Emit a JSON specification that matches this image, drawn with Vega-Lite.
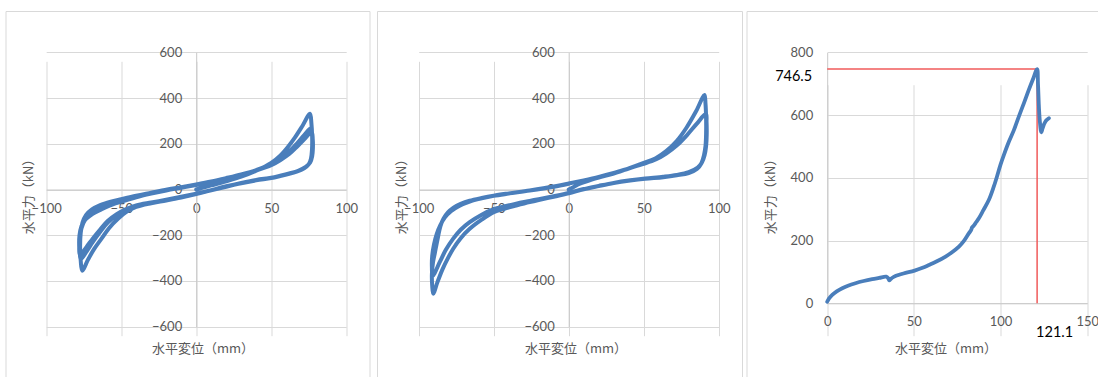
{
  "$schema": "https://vega.github.io/schema/vega-lite/v6.json",
  "padding": {"left": 4.5, "top": 10, "right": 0, "bottom": 0},
  "background": "white",
  "config": {
    "view": {"stroke": "#d9d9d9", "strokeWidth": 1},
    "axis": {"grid": true, "gridColor": "#d9d9d9", "gridWidth": 1, "domainColor": "#c8c8c8", "ticks": false,
      "labelFont": "Lato", "labelFontSize": 13, "labelColor": "#595959", "labelFlush": false, "labelOverlap": false, "labelBound": false,
      "titleFont": "Noto Sans CJK JP", "titleFontSize": 13, "titleColor": "#595959", "titleFontWeight": "normal",
      "titleAlign": "center", "titleBaseline": "middle"},
    "line": {"color": "#4a7ebb", "strokeWidth": 4, "strokeCap": "round", "strokeJoin": "round", "interpolate": "catmull-rom"}
  },
  "datasets": {
    "p1": [
      {"x":0,"y":0},{"x":5,"y":9},{"x":10,"y":18},{"x":20,"y":36},{"x":30,"y":56},{"x":40,"y":82},{"x":50,"y":116},{"x":56,"y":148},{"x":61,"y":185},{"x":66,"y":229},{"x":71,"y":280},{"x":75.8,"y":331},
      {"x":76.8,"y":290},{"x":77.3,"y":230},{"x":77.2,"y":175},{"x":76.5,"y":135},{"x":75,"y":110},{"x":72,"y":93},{"x":67,"y":78},{"x":61,"y":67},{"x":55,"y":58},{"x":50,"y":51},{"x":40,"y":42},{"x":30,"y":29},{"x":20,"y":14},{"x":10,"y":-3},{"x":0,"y":-20},{"x":-10,"y":-35},{"x":-20,"y":-48},{"x":-30,"y":-60},{"x":-40,"y":-76},{"x":-46,"y":-95},{"x":-52,"y":-127},{"x":-58,"y":-168},{"x":-63,"y":-214},{"x":-68,"y":-260},{"x":-72,"y":-305},{"x":-76,"y":-355},
      {"x":-77,"y":-310},{"x":-77.4,"y":-250},{"x":-77,"y":-190},{"x":-75.8,"y":-145},{"x":-73.5,"y":-112},{"x":-69.5,"y":-87},{"x":-64,"y":-68},{"x":-57,"y":-53},{"x":-50,"y":-42},{"x":-40,"y":-27},{"x":-30,"y":-14},{"x":-20,"y":-1},{"x":-10,"y":10},{"x":0,"y":22},{"x":10,"y":35},{"x":20,"y":50},{"x":30,"y":66},{"x":40,"y":85},{"x":50,"y":110},{"x":56,"y":135},{"x":62,"y":166},{"x":67,"y":200},{"x":72,"y":238},{"x":76.5,"y":268},
      {"x":77.3,"y":235},{"x":77.6,"y":190},{"x":77.2,"y":148},{"x":75.8,"y":118},{"x":73,"y":98},{"x":68,"y":81},{"x":62,"y":69},{"x":56,"y":59},{"x":50,"y":50},{"x":40,"y":40},{"x":30,"y":27},{"x":20,"y":12},{"x":10,"y":-4},{"x":0,"y":-19},{"x":-10,"y":-33},{"x":-20,"y":-46},{"x":-30,"y":-58},{"x":-40,"y":-71},{"x":-47,"y":-89},{"x":-53,"y":-112},{"x":-59,"y":-145},{"x":-64,"y":-185},{"x":-69,"y":-230},{"x":-73,"y":-270},{"x":-77,"y":-305},
      {"x":-77.6,"y":-265},{"x":-77.6,"y":-215},{"x":-76.5,"y":-170},{"x":-74,"y":-133},{"x":-69,"y":-106},{"x":-63,"y":-86},{"x":-56,"y":-66},{"x":-48,"y":-50},{"x":-40,"y":-34},{"x":-30,"y":-18},{"x":-20,"y":-4},{"x":-10,"y":8},{"x":0,"y":20},{"x":10,"y":33},{"x":20,"y":47},{"x":30,"y":64},{"x":40,"y":83},{"x":50,"y":106},{"x":56,"y":128},{"x":62,"y":155},{"x":67,"y":186},{"x":72,"y":220},{"x":77,"y":250},
      {"x":77.7,"y":220},{"x":77.8,"y":180},{"x":77.3,"y":145},{"x":76,"y":118},{"x":73,"y":99},{"x":68,"y":82},{"x":62,"y":70},{"x":56,"y":60},{"x":50,"y":51},{"x":40,"y":41},{"x":30,"y":28},{"x":20,"y":13},{"x":10,"y":-3},{"x":0,"y":-18},{"x":-10,"y":-32},{"x":-20,"y":-45},{"x":-30,"y":-57},{"x":-40,"y":-70},{"x":-47,"y":-87},{"x":-53,"y":-108},{"x":-59,"y":-138},{"x":-64,"y":-175},{"x":-69,"y":-215},{"x":-73,"y":-250},{"x":-77.5,"y":-285},
      {"x":-78,"y":-250},{"x":-77.8,"y":-200},{"x":-76.5,"y":-160},{"x":-74,"y":-128},{"x":-69,"y":-102},{"x":-63,"y":-83},{"x":-56,"y":-64},{"x":-48,"y":-48},{"x":-40,"y":-33},{"x":-30,"y":-17},{"x":-20,"y":-3},{"x":-10,"y":9},{"x":0,"y":21}
    ],
    "p2": [
      {"x":0,"y":0},{"x":3,"y":10},{"x":7,"y":24},{"x":12,"y":36},{"x":20,"y":52},{"x":30,"y":70},{"x":40,"y":92},{"x":50,"y":116},{"x":58,"y":137},{"x":65,"y":168},{"x":72,"y":212},{"x":78.5,"y":270},{"x":85,"y":343},{"x":90.5,"y":413},
      {"x":91.2,"y":375},{"x":91.6,"y":310},{"x":91.6,"y":245},{"x":91.2,"y":190},{"x":90.2,"y":150},{"x":88.5,"y":115},{"x":85.5,"y":90},{"x":80,"y":72},{"x":72,"y":62},{"x":63,"y":54},{"x":51,"y":47},{"x":41,"y":39},{"x":30,"y":28},{"x":20,"y":15},{"x":10,"y":1},{"x":0,"y":-17},{"x":-10,"y":-32},{"x":-20,"y":-46},{"x":-26,"y":-55},{"x":-35,"y":-70},{"x":-43,"y":-84},{"x":-50,"y":-99},{"x":-58,"y":-132},{"x":-66,"y":-172},{"x":-72,"y":-213},{"x":-77,"y":-259},{"x":-80.5,"y":-300},{"x":-84,"y":-347},{"x":-87.5,"y":-405},{"x":-90.3,"y":-456},
      {"x":-91,"y":-420},{"x":-91.2,"y":-370},{"x":-90.5,"y":-320},{"x":-89.3,"y":-280},{"x":-87.2,"y":-210},{"x":-85.5,"y":-160},{"x":-83.5,"y":-128},{"x":-80.5,"y":-100},{"x":-77,"y":-80},{"x":-72,"y":-63},{"x":-66,"y":-49},{"x":-58,"y":-37},{"x":-50,"y":-27},{"x":-40,"y":-17},{"x":-26,"y":-4},{"x":-10,"y":13},{"x":0,"y":26},{"x":10,"y":40},{"x":20,"y":55},{"x":30,"y":72},{"x":40,"y":92},{"x":50,"y":112},{"x":58,"y":131},{"x":65,"y":157},{"x":72,"y":192},{"x":78.6,"y":236},{"x":85.3,"y":287},{"x":91.5,"y":331},
      {"x":91.9,"y":295},{"x":92,"y":240},{"x":91.6,"y":190},{"x":90.6,"y":150},{"x":88.8,"y":118},{"x":86,"y":96},{"x":80,"y":76},{"x":72,"y":64},{"x":63,"y":56},{"x":51,"y":48},{"x":41,"y":40},{"x":30,"y":29},{"x":20,"y":16},{"x":10,"y":2},{"x":0,"y":-15},{"x":-10,"y":-29},{"x":-20,"y":-42},{"x":-26,"y":-50},{"x":-35,"y":-62},{"x":-43,"y":-74},{"x":-50,"y":-86},{"x":-58,"y":-110},{"x":-66,"y":-143},{"x":-72,"y":-176},{"x":-77,"y":-215},{"x":-82,"y":-265},{"x":-86,"y":-318},{"x":-90.7,"y":-378},
      {"x":-91.2,"y":-340},{"x":-91,"y":-290},{"x":-89.8,"y":-240},{"x":-88,"y":-195},{"x":-85.5,"y":-155},{"x":-82.5,"y":-122},{"x":-78.5,"y":-95},{"x":-73,"y":-72},{"x":-66,"y":-53},{"x":-58,"y":-39},{"x":-50,"y":-28},{"x":-40,"y":-18},{"x":-26,"y":-5},{"x":-10,"y":12},{"x":0,"y":25}
    ],
    "p3": [
      {"x":0,"y":5},{"x":1,"y":15},{"x":2.9,"y":27},{"x":5.5,"y":38},{"x":8.7,"y":48},{"x":12,"y":56},{"x":16.3,"y":64},{"x":21,"y":71},{"x":26,"y":77},{"x":30,"y":81},{"x":34,"y":85},{"x":35.2,"y":80},{"x":35.8,"y":73},{"x":36.6,"y":77},{"x":38,"y":83},{"x":39.4,"y":87},{"x":44,"y":95},{"x":50.4,"y":104},{"x":55,"y":113},{"x":58.7,"y":122},{"x":63,"y":133},{"x":68.3,"y":149},{"x":72,"y":163},{"x":76,"y":181},{"x":79,"y":200},{"x":81.7,"y":223},{"x":83,"y":233},{"x":83.6,"y":242},{"x":84.5,"y":247},{"x":86,"y":259},{"x":87.5,"y":271},{"x":90,"y":296},{"x":93.3,"y":330},{"x":96,"y":370},{"x":98,"y":405},{"x":100,"y":442},{"x":102,"y":474},{"x":104.8,"y":515},{"x":107.7,"y":552},{"x":110.6,"y":596},{"x":113.5,"y":638},{"x":116.3,"y":680},{"x":118.7,"y":714},{"x":121.1,"y":746.5},
      {"x":121.6,"y":700},{"x":122.2,"y":620},{"x":122.7,"y":579},{"x":123.2,"y":552},{"x":123.5,"y":545},{"x":124.3,"y":558},{"x":125.2,"y":572},{"x":126.2,"y":582},{"x":127.9,"y":590}
    ],
    "refs": [
      {"x1":0,"x2":121.1,"y1":746.5,"y2":746.5},
      {"x1":121.1,"x2":121.1,"y1":0,"y2":746.5}
    ],
    "notes": [
      {"x":0,"y":746.5,"label":"746.5"}
    ],
    "notes2": [
      {"x":121.1,"y":0,"label":"121.1"}
    ]
  },
  "spacing": 3,
  "hconcat": [
    {
      "spacing": 5.5,
      "hconcat": [
        {
          "width": 364, "height": 366,
          "data": {"name": "p1"},
          "mark": {"type": "line"},
          "encoding": {
            "x": {"field": "x", "type": "quantitative",
              "scale": {"domain": [-100, 100], "range": [40.7, 340.7], "nice": false, "zero": false},
              "axis": {"values": [-100, -50, 0, 50, 100], "offset": -187.5, "labelPadding": 12.5, "title": "水平変位（mm）", "titleX": 197, "titleY": 158.5}},
            "y": {"field": "y", "type": "quantitative",
              "scale": {"domain": [-600, 600], "range": [315.7, 41.3], "nice": false, "zero": false},
              "axis": {"values": [-600, -400, -200, 0, 200, 400, 600], "offset": -190.7, "labelPadding": 14.5, "title": "水平力（kN）", "titleX": -167.7, "titleY": 182, "titleAngle": 270}},
            "order": {"value": null}
          }
        },
        {
          "width": 365, "height": 366,
          "data": {"name": "p2"},
          "mark": {"type": "line"},
          "encoding": {
            "x": {"field": "x", "type": "quantitative",
              "scale": {"domain": [-100, 100], "range": [41.7, 341.7], "nice": false, "zero": false},
              "axis": {"values": [-100, -50, 0, 50, 100], "offset": -187.5, "labelPadding": 12.5, "title": "水平変位（mm）", "titleX": 198.5, "titleY": 158.5}},
            "y": {"field": "y", "type": "quantitative",
              "scale": {"domain": [-600, 600], "range": [315.7, 41.3], "nice": false, "zero": false},
              "axis": {"values": [-600, -400, -200, 0, 200, 400, 600], "offset": -191.7, "labelPadding": 14.5, "title": "水平力（kN）", "titleX": -167, "titleY": 182, "titleAngle": 270}},
            "order": {"value": null}
          }
        }
      ]
    },
    {
      "width": 352, "height": 366,
      "layer": [
        {
          "data": {"name": "refs"},
          "mark": {"type": "rule", "color": "#f05a5a", "strokeWidth": 1.5},
          "encoding": {
            "x": {"field": "x1", "type": "quantitative"},
            "x2": {"field": "x2"},
            "y": {"field": "y1", "type": "quantitative"},
            "y2": {"field": "y2"}
          }
        },
        {
          "data": {"name": "p3"},
          "mark": {"type": "line", "strokeWidth": 3.8},
          "encoding": {
            "x": {"field": "x", "type": "quantitative",
              "scale": {"domain": [0, 150], "range": [80.7, 340.7], "nice": false, "zero": false},
              "axis": {"values": [0, 50, 100, 150], "offset": -73.7, "labelPadding": 12.5, "title": "水平変位（mm）", "titleX": 199, "titleY": 44.7}},
            "y": {"field": "y", "type": "quantitative",
              "scale": {"domain": [0, 800], "range": [292.3, 41.3], "nice": false, "zero": false},
              "axis": {"values": [0, 200, 400, 600, 800], "offset": -80.7, "labelPadding": 14.5, "title": "水平力（kN）", "titleX": -56.7, "titleY": 182, "titleAngle": 270}},
            "order": {"value": null}
          }
        },
        {
          "data": {"name": "notes"},
          "mark": {"type": "text", "font": "Lato", "fontSize": 14.5, "color": "#000000", "align": "right", "baseline": "middle", "dx": -15, "dy": 8},
          "encoding": {
            "x": {"field": "x", "type": "quantitative"},
            "y": {"field": "y", "type": "quantitative"},
            "text": {"field": "label"}
          }
        },
        {
          "data": {"name": "notes2"},
          "mark": {"type": "text", "font": "Lato", "fontSize": 14.5, "color": "#000000", "align": "left", "baseline": "middle", "dx": -1, "dy": 30},
          "encoding": {
            "x": {"field": "x", "type": "quantitative"},
            "y": {"field": "y", "type": "quantitative"},
            "text": {"field": "label"}
          }
        }
      ]
    }
  ]
}
